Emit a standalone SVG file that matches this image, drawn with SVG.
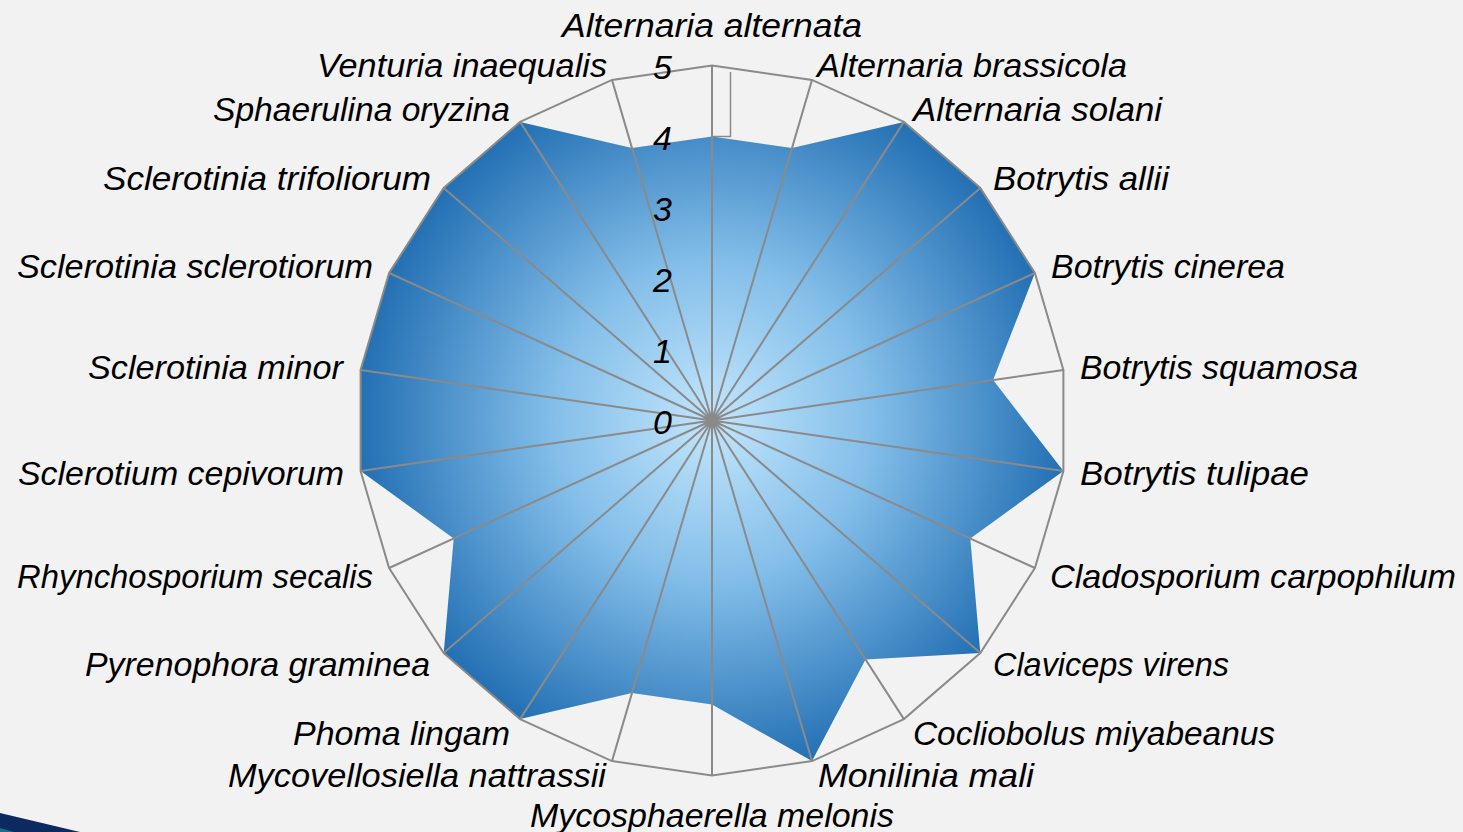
<svg xmlns="http://www.w3.org/2000/svg" width="1463" height="832" viewBox="0 0 1463 832">
<defs>
<radialGradient id="fillGrad" gradientUnits="userSpaceOnUse" cx="712" cy="420.5" r="355">
<stop offset="0" stop-color="#c3e6fc"/>
<stop offset="0.45" stop-color="#83bee9"/>
<stop offset="1" stop-color="#226fb3"/>
</radialGradient>
</defs>
<style>
.bg{fill:#f2f2f2}
.grid{fill:none;stroke:#8a8a8a;stroke-width:2}
.lbl{font-family:"Liberation Sans",Arial,sans-serif;font-style:italic;font-size:34px;fill:#000}
.tick{font-family:"Liberation Sans",Arial,sans-serif;font-style:italic;font-size:34px;fill:#000;text-anchor:end}
.l{text-anchor:end}
.r{text-anchor:start}
.m{text-anchor:middle}
</style>
<rect class="bg" x="0" y="0" width="1463" height="832"/>
<polygon points="0,813 80,832 0,832" fill="#0c2a60"/>
<polygon points="0,828 14,832 0,832" fill="#1b6e88"/>

<g id="series">
<polygon fill="url(#fillGrad)" points="712,136.5 792.0,148.0 903.9,121.9 980.3,188.0 1034.9,273.0 993.1,380.1 1063.4,471.0 970.3,538.5 980.3,653.0 865.5,659.4 812.0,761.1 712,704.5 632.0,693.0 520.1,719.1 443.7,653.0 453.7,538.5 360.6,471.0 360.6,370.0 389.1,273.0 443.7,188.0 520.1,121.9 632.0,148.0"/>
</g>

<g id="connectors" class="grid">
<polygon points="712,65.5 812.0,79.9 903.9,121.9 980.3,188.0 1034.9,273.0 1063.4,370.0 1063.4,471.0 1034.9,568.0 980.3,653.0 903.9,719.1 812.0,761.1 712,775.5 612.0,761.1 520.1,719.1 443.7,653.0 389.1,568.0 360.6,471.0 360.6,370.0 389.1,273.0 443.7,188.0 520.1,121.9 612.0,79.9"/>
<path d="M712,420.5L712,65.5 M712,420.5L812.0,79.9 M712,420.5L903.9,121.9 M712,420.5L980.3,188.0 M712,420.5L1034.9,273.0 M712,420.5L1063.4,370.0 M712,420.5L1063.4,471.0 M712,420.5L1034.9,568.0 M712,420.5L980.3,653.0 M712,420.5L903.9,719.1 M712,420.5L812.0,761.1 M712,420.5L712,775.5 M712,420.5L612.0,761.1 M712,420.5L520.1,719.1 M712,420.5L443.7,653.0 M712,420.5L389.1,568.0 M712,420.5L360.6,471.0 M712,420.5L360.6,370.0 M712,420.5L389.1,273.0 M712,420.5L443.7,188.0 M712,420.5L520.1,121.9 M712,420.5L612.0,79.9"/>
<path d="M712,136.5H730.5V72" stroke-width="1.5"/>
<circle cx="712" cy="420.5" r="4" fill="#8a8a8a" stroke="none"/>
</g>

<g id="ticks">
<text class="tick" x="672" y="79">5</text>
<text class="tick" x="672" y="150">4</text>
<text class="tick" x="672" y="221">3</text>
<text class="tick" x="672" y="292">2</text>
<text class="tick" x="672" y="363">1</text>
<text class="tick" x="672" y="434">0</text>
</g>

<g id="n0"><text class="lbl m" x="712" y="37" textLength="300" lengthAdjust="spacingAndGlyphs">Alternaria alternata</text></g>
<g id="n1"><text class="lbl r" x="817" y="77" textLength="310" lengthAdjust="spacingAndGlyphs">Alternaria brassicola</text></g>
<g id="n2"><text class="lbl r" x="913" y="121" textLength="249" lengthAdjust="spacingAndGlyphs">Alternaria solani</text></g>
<g id="n3"><text class="lbl r" x="993" y="190" textLength="176" lengthAdjust="spacingAndGlyphs">Botrytis allii</text></g>
<g id="n4"><text class="lbl r" x="1051" y="278" textLength="234" lengthAdjust="spacingAndGlyphs">Botrytis cinerea</text></g>
<g id="n5"><text class="lbl r" x="1080" y="379" textLength="278" lengthAdjust="spacingAndGlyphs">Botrytis squamosa</text></g>
<g id="n6"><text class="lbl r" x="1080" y="485" textLength="229" lengthAdjust="spacingAndGlyphs">Botrytis tulipae</text></g>
<g id="n7"><text class="lbl r" x="1050" y="588" textLength="406" lengthAdjust="spacingAndGlyphs">Cladosporium carpophilum</text></g>
<g id="n8"><text class="lbl r" x="993" y="676" textLength="236" lengthAdjust="spacingAndGlyphs">Claviceps virens</text></g>
<g id="n9"><text class="lbl r" x="913" y="745" textLength="362" lengthAdjust="spacingAndGlyphs">Cocliobolus miyabeanus</text></g>
<g id="n10"><text class="lbl r" x="818" y="787" textLength="216" lengthAdjust="spacingAndGlyphs">Monilinia mali</text></g>
<g id="n11"><text class="lbl m" x="712" y="827" textLength="364" lengthAdjust="spacingAndGlyphs">Mycosphaerella melonis</text></g>
<g id="n12"><text class="lbl l" x="606" y="787" textLength="378" lengthAdjust="spacingAndGlyphs">Mycovellosiella nattrassii</text></g>
<g id="n13"><text class="lbl l" x="510" y="745" textLength="217" lengthAdjust="spacingAndGlyphs">Phoma lingam</text></g>
<g id="n14"><text class="lbl l" x="430" y="676" textLength="345" lengthAdjust="spacingAndGlyphs">Pyrenophora graminea</text></g>
<g id="n15"><text class="lbl l" x="373" y="588" textLength="356" lengthAdjust="spacingAndGlyphs">Rhynchosporium secalis</text></g>
<g id="n16"><text class="lbl l" x="344" y="485" textLength="326" lengthAdjust="spacingAndGlyphs">Sclerotium cepivorum</text></g>
<g id="n17"><text class="lbl l" x="343" y="379" textLength="255" lengthAdjust="spacingAndGlyphs">Sclerotinia minor</text></g>
<g id="n18"><text class="lbl l" x="373" y="278" textLength="356" lengthAdjust="spacingAndGlyphs">Sclerotinia sclerotiorum</text></g>
<g id="n19"><text class="lbl l" x="431" y="190" textLength="328" lengthAdjust="spacingAndGlyphs">Sclerotinia trifoliorum</text></g>
<g id="n20"><text class="lbl l" x="510" y="121" textLength="297" lengthAdjust="spacingAndGlyphs">Sphaerulina oryzina</text></g>
<g id="n21"><text class="lbl l" x="607" y="77" textLength="290" lengthAdjust="spacingAndGlyphs">Venturia inaequalis</text></g>
</svg>
